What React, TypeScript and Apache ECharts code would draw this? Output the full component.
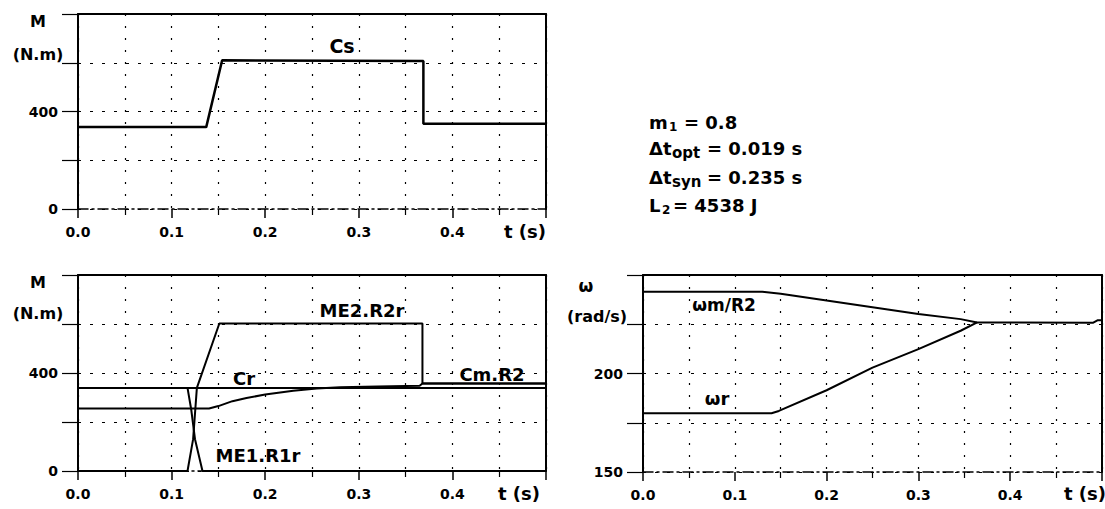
import React, { useEffect, useRef } from 'react';
import * as echarts from 'echarts';

// ---- Top chart: Cs (N.m) vs t (s)
const csT = [0, 0.137, 0.154, 0.369, 0.369, 0.5];
const csV = [336, 336, 610, 607, 350, 350];

// ---- Bottom-left chart: torques (N.m) vs t (s)
const crT = [0, 0.14, 0.15, 0.165, 0.18, 0.2, 0.23, 0.255, 0.28, 0.32, 0.365, 0.368, 0.5];
const crV = [255, 255, 265, 285, 298, 312, 328, 337, 342, 345, 348, 357, 357];
const cmT = [0, 0.5];
const cmV = [339, 339];
const me1T = [0, 0.117, 0.121, 0.125, 0.133, 0.5];
const me1V = [339, 339, 250, 130, 0, 0];
const me2T = [0, 0.117, 0.123, 0.127, 0.151, 0.368, 0.368, 0.5];
const me2V = [0, 0, 130, 339, 602, 602, 357, 357];

// ---- Bottom-right chart: speeds (rad/s) vs t (s)
const wmT = [0, 0.13, 0.15, 0.2, 0.25, 0.3, 0.346, 0.364, 0.49, 0.495, 0.5];
const wmV = [241.5, 241.5, 240.5, 237, 233.6, 230.2, 227.6, 225.9, 225.7, 227, 227];
const wrT = [0, 0.14, 0.148, 0.2, 0.25, 0.3, 0.346, 0.364];
const wrV = [179.8, 179.8, 181, 191.5, 203, 212.4, 221.7, 225.9];

// ---- Tick labels
const xTickLabels = ['0.0', '0.1', '0.2', '0.3', '0.4'];
const mLabels = [0, 400];
const wLabels = [150, 200];

const pairs = (t: number[], v: number[]) => t.map((x, i) => [x, v[i]]);

const FONT = 'DejaVu Sans';

export default function App() {
  const ref = useRef<HTMLDivElement>(null);
  useEffect(() => {
    if (!ref.current) return;
    const chart = echarts.init(ref.current, null, { renderer: 'svg' });

    const dotted = { color: '#000', width: 1.2, type: [2, 10] as any };
    const dottedH = { color: '#000', width: 1.2, type: [3, 9] as any };

    const bottomX = (gridIndex: number) => ({
      type: 'value', gridIndex, min: 0, max: 0.5, interval: 0.1, position: 'bottom',
      axisLine: { show: true, onZero: false, lineStyle: { color: '#000', width: 1.5, type: [10, 4, 2, 4] } },
      axisTick: { show: true, length: 9, lineStyle: { color: '#000', width: 1.5 } },
      minorTick: { show: true, splitNumber: 2, length: 6, lineStyle: { color: '#000', width: 1.2 } },
      axisLabel: {
        margin: 16, color: '#000', fontFamily: FONT, fontWeight: 'bold', fontSize: 14,
        formatter: (v: number) => { const i = Math.round(v * 10); return xTickLabels[i] ?? ''; },
      },
      splitLine: { show: true, lineStyle: dotted },
      minorSplitLine: { show: true, lineStyle: dotted },
    });
    const topX = (gridIndex: number) => ({
      type: 'value', gridIndex, min: 0, max: 0.5, position: 'top',
      axisLine: { show: true, onZero: false, lineStyle: { color: '#000', width: 2 } },
      axisTick: { show: false }, axisLabel: { show: false }, splitLine: { show: false },
    });
    const leftY = (gridIndex: number, min: number, max: number, interval: number, labels: number[]) => ({
      type: 'value', gridIndex, min, max, interval, position: 'left',
      axisLine: { show: true, onZero: false, lineStyle: { color: '#000', width: 2 } },
      axisTick: { show: true, length: 16, lineStyle: { color: '#000', width: 1.2 } },
      axisLabel: {
        margin: 20, color: '#000', fontFamily: FONT, fontWeight: 'bold', fontSize: 14,
        formatter: (v: number) => (labels.includes(Math.round(v)) ? String(Math.round(v)) : ''),
      },
      splitLine: { show: true, lineStyle: dottedH },
    });
    const rightY = (gridIndex: number, min: number, max: number) => ({
      type: 'value', gridIndex, min, max, position: 'right',
      axisLine: { show: true, onZero: false, lineStyle: { color: '#000', width: 2 } },
      axisTick: { show: false }, axisLabel: { show: false }, splitLine: { show: false },
    });
    const line = (name: string, xi: number, yi: number, t: number[], v: number[], w = 2) => ({
      name, type: 'line', xAxisIndex: xi, yAxisIndex: yi, data: pairs(t, v),
      symbol: 'none', showSymbol: false, silent: true,
      lineStyle: { color: '#000', width: w },
    });
    const txt = (text: string, x: number, y: number, size: number, align = 'center') => ({
      type: 'text', x, y, silent: true, z: 100,
      style: { text, fill: '#000', fontFamily: FONT, fontWeight: 'bold', fontSize: size, align, verticalAlign: 'middle' },
    });

    chart.setOption({
      animation: false,
      backgroundColor: '#fff',
      grid: [
        { left: 78, top: 14, width: 468, height: 195 },
        { left: 78, top: 275, width: 468, height: 196 },
        { left: 643, top: 275, width: 470, height: 197 },
      ],
      xAxis: [bottomX(0), topX(0), bottomX(1), topX(1), bottomX(2), topX(2)],
      yAxis: [
        leftY(0, 0, 800, 200, mLabels), rightY(0, 0, 800),
        leftY(1, 0, 800, 200, mLabels), rightY(1, 0, 800),
        leftY(2, 150, 250, 25, wLabels), rightY(2, 150, 250),
      ],
      series: [
        line('Cs', 0, 0, csT, csV, 2.5),
        line('Cm.R2', 2, 2, cmT, cmV),
        line('Cr', 2, 2, crT, crV),
        line('ME1.R1r', 2, 2, me1T, me1V),
        line('ME2.R2r', 2, 2, me2T, me2V),
        line('ωm/R2', 4, 4, wmT, wmV),
        line('ωr', 4, 4, wrT, wrV),
      ],
      graphic: [
        txt('M', 38, 21, 16), txt('(N.m)', 38, 54, 16), txt('Cs', 342, 46, 19), txt('t (s)', 525, 231, 18),
        txt('M', 38, 282, 16), txt('(N.m)', 38, 313, 16),
        txt('ME2.R2r', 362, 310, 18), txt('Cr', 244, 378, 18), txt('Cm.R2', 492, 374, 18),
        txt('ME1.R1r', 258, 455, 18), txt('t (s)', 519, 493, 18),
        txt('ω', 586, 286, 17), txt('(rad/s)', 597, 316, 16),
        txt('ωm/R2', 724, 305, 17), txt('ωr', 717, 398, 18), txt('t (s)', 1085, 493, 18),
        // parameter block
        txt('m', 649, 122, 18, 'left'), txt('1', 669, 127, 12, 'left'), txt('= 0.8', 684, 122, 18, 'left'),
        txt('Δt', 649, 148, 18, 'left'), txt('opt', 672, 153, 15, 'left'), txt('= 0.019 s', 707, 148, 18, 'left'),
        txt('Δt', 649, 177, 18, 'left'), txt('syn', 672, 182, 15, 'left'), txt('= 0.235 s', 707, 177, 18, 'left'),
        txt('L', 649, 205, 18, 'left'), txt('2', 662, 210, 12, 'left'), txt('= 4538 J', 673, 205, 18, 'left'),
      ],
    } as any);
    return () => chart.dispose();
  }, []);
  return (
    <div
      ref={ref}
      style={{ position: 'absolute', left: 0, top: 0, width: 1105, height: 509, background: '#fff' }}
    />
  );
}
